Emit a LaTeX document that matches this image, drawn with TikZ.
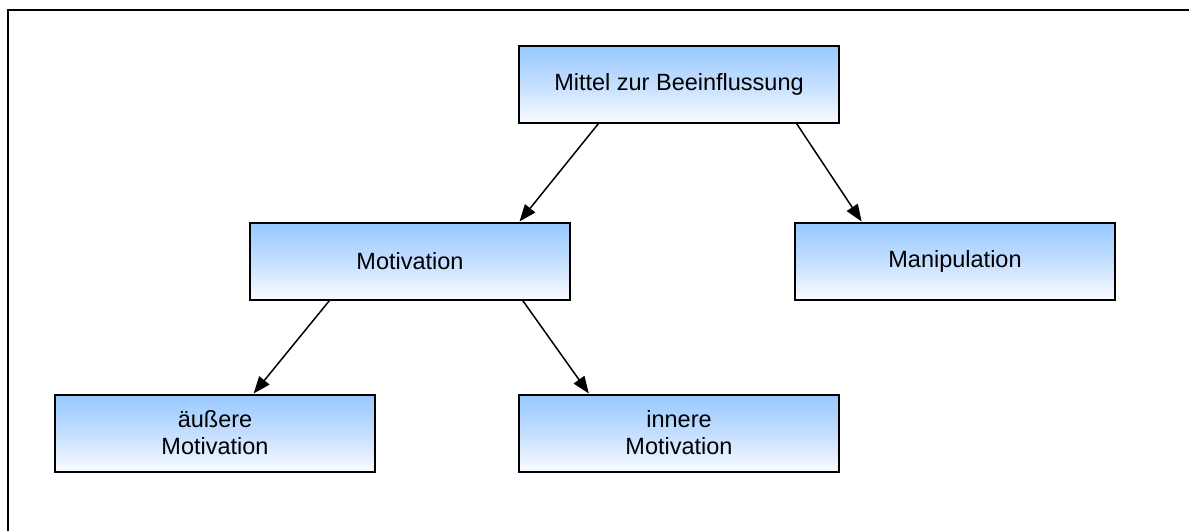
\documentclass[tikz,border=0pt]{standalone}
\usepackage{fontspec}
\setmainfont{Liberation Sans}
\usetikzlibrary{arrows.meta,calc}
\definecolor{boxtop}{RGB}{150,200,255}
\definecolor{boxmid}{RGB}{196,222,255}
\definecolor{boxbottom}{RGB}{250,252,255}
\tikzset{
  conceptbox/.style={draw=black, line width=2pt, rectangle,
    top color=boxtop, bottom color=boxbottom, middle color=boxmid,
    minimum width=320pt, minimum height=77pt, align=center,
    font=\fontsize{23.5}{27}\selectfont, inner sep=0pt},
  link/.style={line width=1.5pt, -{Triangle[length=17pt,width=13pt]}},
  frameline/.style={line width=2pt}
}
\begin{document}
\begin{tikzpicture}[x=1pt,y=-1pt]
  \useasboundingbox (0,0) rectangle (1189,531);
  % open frame: top and left edges only
  \coordinate (fbl) at (8,531);
  \coordinate (ftl) at (8,10);
  \coordinate (ftr) at (1189,10);
  \draw[frameline] (fbl) -- (ftl) -- (ftr);

  % boxes
  \node[conceptbox] (top) at (679,84) {Mittel zur Beeinflussung};
  \node[conceptbox] (mot) at (410,261) {Motivation};
  \node[conceptbox] (man) at (955,261) {Manipulation};
  \node[conceptbox] (aus) at (215,433) {äußere\\Motivation};
  \node[conceptbox] (inn) at (679,433) {innere\\Motivation};

  % connectors
  \draw[link] ($(top.south west)!0.25!(top.south east)$) -- ($(mot.north west)!0.84!(mot.north east)$);
  \draw[link] ($(top.south west)!0.865!(top.south east)$) -- ($(man.north west)!0.21!(man.north east)$);
  \draw[link] ($(mot.south west)!0.25!(mot.south east)$) -- ($(aus.north west)!0.62!(aus.north east)$);
  \draw[link] ($(mot.south west)!0.85!(mot.south east)$) -- ($(inn.north west)!0.22!(inn.north east)$);
\end{tikzpicture}
\end{document}
